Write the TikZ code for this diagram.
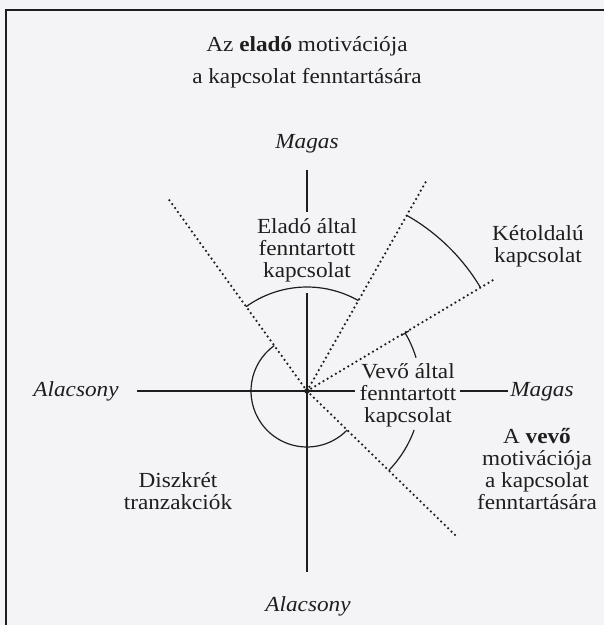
\documentclass[tikz,border=0pt]{standalone}
\usepackage{xcolor}
\usepackage{fontspec}
\setmainfont{Liberation Serif}[FakeStretch=1.08]
\usepackage{tikz}
\usetikzlibrary{arrows.meta, positioning}
\definecolor{paper}{HTML}{F4F4F6}
\definecolor{ink}{HTML}{1E1E1E}

\begin{document}
\begin{tikzpicture}[x=1pt, y=1pt,
        axisline/.style={line width=2pt, ink},
        ray/.style={line width=2.5pt, dash pattern=on 0pt off 4.8pt, line cap=round, ink},
        sector/.style={line width=1.2pt, ink},
        caption/.style={align=center, inner sep=0pt, text=ink, font=\fontsize{21.5}{22}\selectfont},
        pole/.style={anchor=base, inner sep=0pt, text=ink, font=\fontsize{21.5}{22}\selectfont\itshape}
    ]
        \fill[paper] (-307,-234) rectangle (297,391);
        \useasboundingbox (-307,-234) rectangle (297,391);
        \draw[line width=2pt, ink] (-301,-240) -- (-301,381) -- (303,381);

        \node (O) [circle, fill=ink, inner sep=0pt, minimum size=5.5pt] at (0,0) {};

        \node (title) [caption, font=\fontsize{21.5}{32}\selectfont] at (0,329) {Az \textbf{eladó} motivációja\\a kapcsolat fenntartására};
        \node (magasT) [pole] at (0,243) {Magas};
        \node (magasR) [pole] at (235,-5) {Magas};
        \node (alacsonyL) [pole] at (-231,-5) {Alacsony};
        \node (alacsonyB) [pole] at (1,-220) {Alacsony};

        \node (elado) [caption] at (0,141) {Eladó által\\fenntartott\\kapcsolat};
        \node (ketoldalu) [caption] at (231,145) {Kétoldalú\\kapcsolat};
        \node (vevo) [caption] at (101,-4) {Vevő által\\fenntartott\\kapcsolat};
        \node (vevomot) [caption] at (230,-78) {A \textbf{vevő}\\motivációja\\a kapcsolat\\fenntartására};
        \node (diszkret) [caption] at (-129,-100) {Diszkrét\\tranzakciók};

        \coordinate (vtop) at (0,221);
        \coordinate (vtopend) at (0,179);
        \coordinate (vmid) at (0,98);
        \coordinate (vbot) at (0,-181);
        \coordinate (hleft) at (-170,0);
        \coordinate (hgap) at (48,0);
        \coordinate (hgapend) at (153,0);
        \coordinate (hright) at (201,0);

        \draw [axisline] (vtop) -- (vtopend);
        \draw [axisline] (vmid) -- (O.center) -- (vbot);
        \draw [axisline] (hleft) -- (O.center) -- (hgap);
        \draw [axisline] (hgapend) -- (hright);

        \coordinate (rayUL) at (125.8:238);
        \coordinate (rayUR) at (60.4:243);
        \coordinate (rayR) at (30.8:217);
        \coordinate (rayLR) at (-44.2:211);
        \draw [ray] (O.center) -- (rayUL);
        \draw [ray] (O.center) -- (rayUR);
        \draw [ray] (O.center) -- (rayR);
        \draw [ray] (O.center) -- (rayLR);

        \draw [sector] (125.8:104) arc[start angle=125.8, end angle=60.4, radius=104];
        \draw [sector] (60.4:202) arc[start angle=60.4, end angle=30.8, radius=202];
        \draw [sector] (125.8:56) arc[start angle=125.8, end angle=315.8, radius=56];
        \draw [sector, {Bar[width=9pt]}-] (30.8:114) arc[start angle=30.8, end angle=17, radius=114];
        \draw [sector] (-20:114) arc[start angle=-20, end angle=-44.2, radius=114];
    \end{tikzpicture}
\end{document}
